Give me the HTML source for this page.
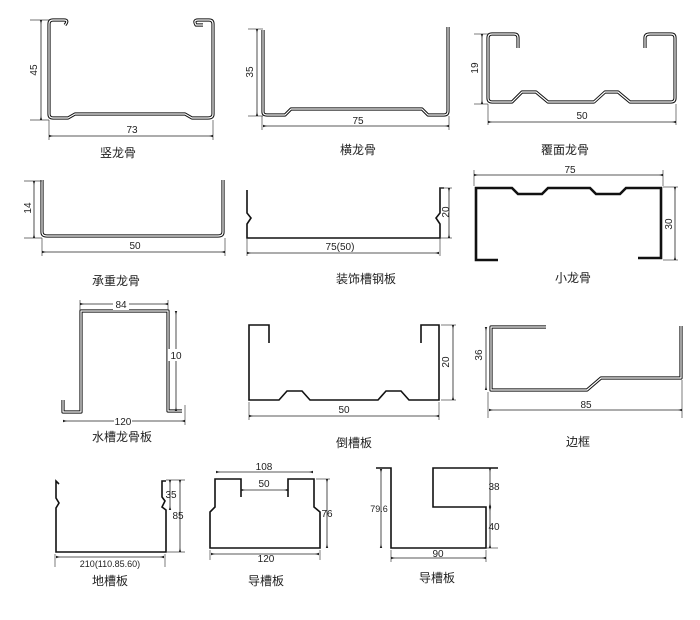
<!DOCTYPE html>
<html><head><meta charset="utf-8"><style>
html,body{margin:0;padding:0;background:#fff;}
svg{display:block;}
text{font-family:"Liberation Sans","Noto Sans CJK SC",sans-serif;fill:#222;}
.lb{font-size:12px;text-anchor:middle;}
.d{font-size:10px;text-anchor:middle;}
.p{fill:none;stroke:#111;stroke-width:3.2;stroke-linejoin:round;}
.pi{fill:none;stroke:#fff;stroke-width:1.2;stroke-linejoin:round;}
.t{fill:none;stroke:#111;stroke-width:1.6;}
.dm{stroke:#222;stroke-width:0.8;fill:none;marker-start:url(#a);marker-end:url(#a);}
.e{stroke:#444;stroke-width:0.7;}
</style></head><body>
<svg width="700" height="620" viewBox="0 0 700 620" xmlns="http://www.w3.org/2000/svg">
<defs><marker id="a" viewBox="0 0 10 10" refX="5" refY="5" markerWidth="5" markerHeight="5" orient="auto-start-reverse"><path d="M0,5 L10,2 L10,8 Z" fill="#222"/></marker></defs>

<!-- 1 竖龙骨 -->
<g>
<path class="p" d="M65,25 Q69,20 64,20 L53,20 Q49,20 49,24 L49,114 Q49,118 53,118 L68,118 L75,114 L185,114 L192,118 L208,118 Q213,118 213,114 L213,24 Q213,20 209,20 L198,20 Q193,20 196,25 L203,25"/>
<path class="pi" d="M65,25 Q69,20 64,20 L53,20 Q49,20 49,24 L49,114 Q49,118 53,118 L68,118 L75,114 L185,114 L192,118 L208,118 Q213,118 213,114 L213,24 Q213,20 209,20 L198,20 Q193,20 196,25 L203,25"/>
<line class="e" x1="30" y1="20" x2="49" y2="20"/><line class="e" x1="30" y1="120" x2="49" y2="120"/>
<line class="dm" x1="41" y1="22" x2="41" y2="118"/>
<text class="d" transform="translate(37,70) rotate(-90)">45</text>
<line class="e" x1="49" y1="120" x2="49" y2="140"/><line class="e" x1="213" y1="120" x2="213" y2="140"/>
<line class="dm" x1="51" y1="136" x2="211" y2="136"/>
<text class="d" x="132" y="133">73</text>
<text class="lb" x="118" y="157">竖龙骨</text>
</g>

<!-- 2 横龙骨 -->
<g>
<path class="p" d="M263,30 L263,112 Q263,115 267,115 L285,115 L291,109 L422,109 L428,115 L444,115 Q448,115 448,111 L448,27"/>
<path class="pi" d="M263,30 L263,112 Q263,115 267,115 L285,115 L291,109 L422,109 L428,115 L444,115 Q448,115 448,111 L448,27"/>
<line class="e" x1="248" y1="29" x2="263" y2="29"/><line class="e" x1="248" y1="116" x2="263" y2="116"/>
<line class="dm" x1="257" y1="31" x2="257" y2="114"/>
<text class="d" transform="translate(253,72) rotate(-90)">35</text>
<line class="e" x1="262" y1="116" x2="262" y2="130"/><line class="e" x1="449" y1="116" x2="449" y2="130"/>
<line class="dm" x1="265" y1="126" x2="447" y2="126"/>
<text class="d" x="358" y="124">75</text>
<text class="lb" x="358" y="154">横龙骨</text>
</g>

<!-- 3 覆面龙骨 -->
<g>
<path class="p" d="M518,48 L518,38 Q518,34 514,34 L492,34 Q488,34 488,38 L488,98 Q488,102 492,102 L512,102 L522,92 L536,92 L548,102 L594,102 L605,92 L618,92 L630,102 L671,102 Q675,102 675,98 L675,38 Q675,34 671,34 L650,34 Q645,34 645,38 L645,48"/>
<path class="pi" d="M518,48 L518,38 Q518,34 514,34 L492,34 Q488,34 488,38 L488,98 Q488,102 492,102 L512,102 L522,92 L536,92 L548,102 L594,102 L605,92 L618,92 L630,102 L671,102 Q675,102 675,98 L675,38 Q675,34 671,34 L650,34 Q645,34 645,38 L645,48"/>
<line class="e" x1="474" y1="34" x2="488" y2="34"/><line class="e" x1="474" y1="104" x2="488" y2="104"/>
<line class="dm" x1="482" y1="36" x2="482" y2="102"/>
<text class="d" transform="translate(478,68) rotate(-90)">19</text>
<line class="e" x1="488" y1="104" x2="488" y2="125"/><line class="e" x1="676" y1="104" x2="676" y2="125"/>
<line class="dm" x1="490" y1="122" x2="674" y2="122"/>
<text class="d" x="582" y="119">50</text>
<text class="lb" x="565" y="154">覆面龙骨</text>
</g>

<!-- 4 承重龙骨 -->
<g>
<path class="p" d="M42,180 L42,232 Q42,236 47,236 L218,236 Q223,236 223,232 L223,180"/>
<path class="pi" d="M42,180 L42,232 Q42,236 47,236 L218,236 Q223,236 223,232 L223,180"/>
<line class="e" x1="24" y1="181" x2="42" y2="181"/><line class="e" x1="24" y1="238" x2="42" y2="238"/>
<line class="dm" x1="34" y1="183" x2="34" y2="236"/>
<text class="d" transform="translate(31,208) rotate(-90)">14</text>
<line class="e" x1="42" y1="238" x2="42" y2="256"/><line class="e" x1="225" y1="238" x2="225" y2="256"/>
<line class="dm" x1="44" y1="252" x2="223" y2="252"/>
<text class="d" x="135" y="249">50</text>
<text class="lb" x="116" y="285">承重龙骨</text>
</g>

<!-- 5 装饰槽钢板 -->
<g>
<path class="t" d="M247,190 L247,213 L251,218 L247,224 L247,238 L440,238 L440,224 L436,218 L440,213 L440,188 L444,188"/>
<line class="e" x1="247" y1="238" x2="247" y2="256"/><line class="e" x1="440" y1="238" x2="440" y2="256"/>
<line class="dm" x1="249" y1="253" x2="437" y2="253"/>
<text class="d" x="340" y="250">75(50)</text>
<line class="e" x1="440" y1="188" x2="452" y2="188"/><line class="e" x1="440" y1="238" x2="452" y2="238"/>
<line class="dm" x1="449" y1="190" x2="449" y2="236"/>
<text class="d" transform="translate(449,212) rotate(-90)">20</text>
<text class="lb" x="366" y="283">装饰槽钢板</text>
</g>

<!-- 6 小龙骨 -->
<g>
<path d="M498,260 L476,260 L476,188 L512,188 L518,194 L542,194 L548,188 L590,188 L596,194 L620,194 L626,188 L661,188 L661,258 L638,258" fill="none" stroke="#111" stroke-width="2.6"/>
<line class="e" x1="474" y1="186" x2="474" y2="170"/><line class="e" x1="663" y1="186" x2="663" y2="170"/>
<line class="dm" x1="476" y1="175" x2="661" y2="175"/>
<text class="d" x="570" y="173">75</text>
<line class="e" x1="663" y1="187" x2="678" y2="187"/><line class="e" x1="663" y1="260" x2="678" y2="260"/>
<line class="dm" x1="675" y1="189" x2="675" y2="258"/>
<text class="d" transform="translate(672,224) rotate(-90)">30</text>
<text class="lb" x="573" y="282">小龙骨</text>
</g>

<!-- 7 水槽龙骨板 -->
<g>
<path class="p" d="M63,400 L63,412 L81,412 L81,311 L168,311 L168,411 L182,411"/>
<path class="pi" d="M63,400 L63,412 L81,412 L81,311 L168,311 L168,411 L182,411"/>
<line class="e" x1="80" y1="300" x2="80" y2="310"/><line class="e" x1="168" y1="300" x2="168" y2="310"/>
<line class="dm" x1="82" y1="304" x2="166" y2="304"/>
<rect x="113" y="298" width="16" height="12" fill="#fff"/>
<text class="d" x="121" y="308">84</text>
<line class="dm" x1="176" y1="313" x2="176" y2="409"/>
<rect x="168" y="349" width="16" height="12" fill="#fff"/>
<text class="d" x="176" y="359">10</text>
<line class="e" x1="185" y1="405" x2="185" y2="425"/>
<line class="dm" x1="65" y1="421" x2="183" y2="421"/>
<rect x="114" y="415" width="18" height="12" fill="#fff"/>
<text class="d" x="123" y="425">120</text>
<text class="lb" x="122" y="441">水槽龙骨板</text>
</g>

<!-- 8 倒槽板 -->
<g>
<path class="t" d="M269,343 L269,325 L249,325 L249,400 L279,400 L287,391 L302,391 L310,400 L378,400 L386,391 L401,391 L409,400 L439,400 L439,325 L421,325 L421,343"/>
<line class="e" x1="441" y1="325" x2="456" y2="325"/><line class="e" x1="441" y1="400" x2="456" y2="400"/>
<line class="dm" x1="453" y1="327" x2="453" y2="398"/>
<text class="d" transform="translate(449,362) rotate(-90)">20</text>
<line class="e" x1="249" y1="402" x2="249" y2="420"/><line class="e" x1="439" y1="402" x2="439" y2="420"/>
<line class="dm" x1="251" y1="416" x2="437" y2="416"/>
<text class="d" x="344" y="413">50</text>
<text class="lb" x="354" y="447">倒槽板</text>
</g>

<!-- 9 边框 -->
<g>
<path class="p" d="M546,327 L491,327 L491,390 L587,390 L601,378 L681,378 L681,326"/>
<path class="pi" d="M546,327 L491,327 L491,390 L587,390 L601,378 L681,378 L681,326"/>
<line class="dm" x1="486" y1="329" x2="486" y2="388"/>
<text class="d" transform="translate(482,355) rotate(-90)">36</text>
<line class="e" x1="488" y1="392" x2="488" y2="418"/><line class="e" x1="682" y1="380" x2="682" y2="418"/>
<line class="dm" x1="491" y1="410" x2="680" y2="410"/>
<text class="d" x="586" y="408">85</text>
<text class="lb" x="578" y="446">边框</text>
</g>

<!-- 10 地槽板 -->
<g>
<path class="t" d="M59,484 L56,481 L56,498 L59,503 L56,508 L56,552 L166,552 L166,510 L162,507 L165,501 L162,497 L162,481 L166,481"/>
<line class="e" x1="166" y1="480" x2="185" y2="480"/><line class="e" x1="166" y1="552" x2="185" y2="552"/>
<line class="dm" x1="170" y1="482" x2="170" y2="508"/>
<text class="d" x="171" y="498">35</text>
<line class="dm" x1="180" y1="482" x2="180" y2="550"/>
<text class="d" x="178" y="519">85</text>
<line class="e" x1="55" y1="554" x2="55" y2="567"/><line class="e" x1="165" y1="554" x2="165" y2="567"/>
<line class="dm" x1="58" y1="557" x2="162" y2="557"/>
<text class="d" x="110" y="567" style="font-size:9px">210(110.85.60)</text>
<text class="lb" x="110" y="585">地槽板</text>
</g>

<!-- 11 导槽板 -->
<g>
<path class="t" d="M241,497 L241,479 L215,479 L215,507 L210,512 L210,548 L320,548 L320,512 L314,507 L314,479 L288,479 L288,497"/>
<line class="dm" x1="218" y1="472" x2="311" y2="472"/>
<text class="d" x="264" y="470">108</text>
<line class="dm" x1="243" y1="490" x2="286" y2="490"/>
<text class="d" x="264" y="487">50</text>
<line class="e" x1="316" y1="479" x2="330" y2="479"/>
<line class="dm" x1="327" y1="481" x2="327" y2="546"/>
<text class="d" x="327" y="517">76</text>
<line class="e" x1="210" y1="550" x2="210" y2="560"/><line class="e" x1="320" y1="550" x2="320" y2="560"/>
<line class="dm" x1="213" y1="554" x2="317" y2="554"/>
<text class="d" x="266" y="562">120</text>
<text class="lb" x="266" y="585">导槽板</text>
</g>

<!-- 12 导槽板 -->
<g>
<path class="t" d="M376,468 L391,468 L391,548 L486,548 L486,507 L433,507 L433,468 L498,468"/>
<line class="e" x1="486" y1="548" x2="498" y2="548"/>
<line class="dm" x1="381" y1="471" x2="381" y2="546"/>
<text class="d" x="379" y="512" style="font-size:9px">79.6</text>
<line class="dm" x1="490" y1="470" x2="490" y2="505"/>
<text class="d" x="494" y="490">38</text>
<line class="dm" x1="490" y1="509" x2="490" y2="546"/>
<text class="d" x="494" y="530">40</text>
<line class="e" x1="391" y1="550" x2="391" y2="562"/><line class="e" x1="486" y1="550" x2="486" y2="562"/>
<line class="dm" x1="393" y1="558" x2="484" y2="558"/>
<text class="d" x="438" y="557">90</text>
<text class="lb" x="437" y="582">导槽板</text>
</g>
</svg>
</body></html>
